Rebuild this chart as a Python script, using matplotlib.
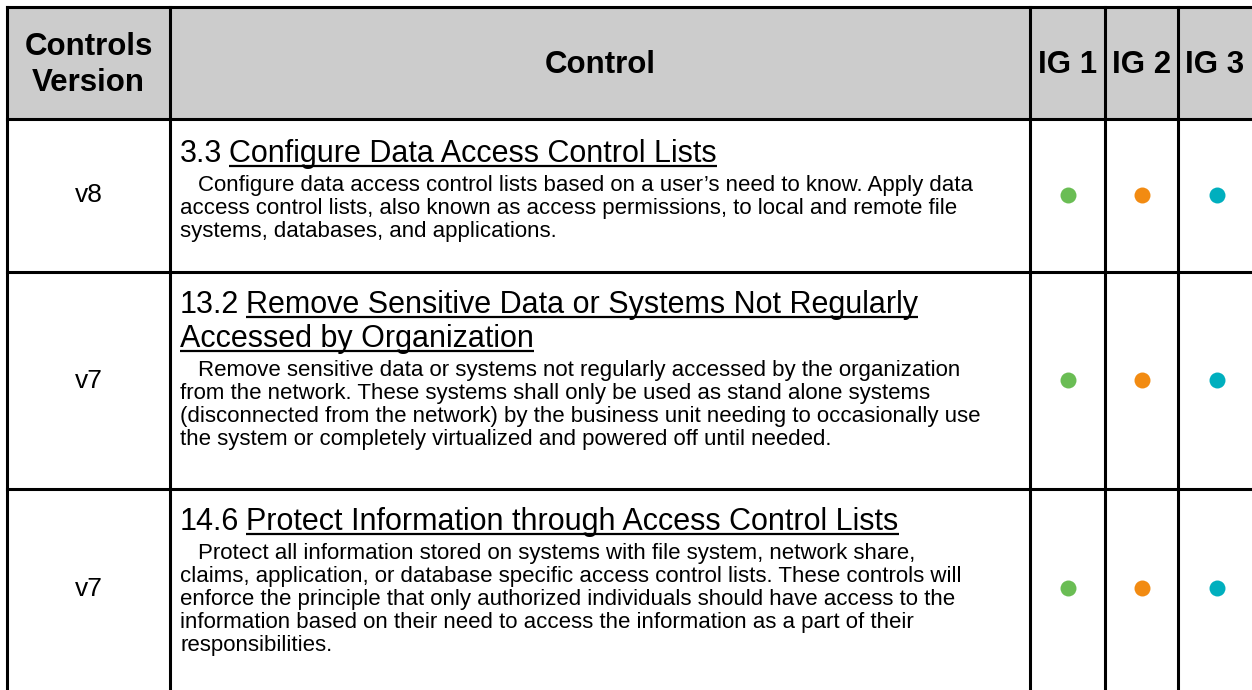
import matplotlib
matplotlib.use("Agg")
import matplotlib.pyplot as plt

plt.rcParams['font.family'] = ['Liberation Sans', 'DejaVu Sans']

# table content
headers = ["Controls\nVersion", "Control", "IG 1", "IG 2", "IG 3"]
versions = ["v8", "v7", "v7"]
control_ids = ["3.3", "13.2", "14.6"]
titles = [
    ["Configure Data Access Control Lists"],
    ["Remove Sensitive Data or Systems Not Regularly", "Accessed by Organization"],
    ["Protect Information through Access Control Lists"],
]
descriptions = [
    ["Configure data access control lists based on a user\u2019s need to know. Apply data",
     "access control lists, also known as access permissions, to local and remote file",
     "systems, databases, and applications."],
    ["Remove sensitive data or systems not regularly accessed by the organization",
     "from the network. These systems shall only be used as stand alone systems",
     "(disconnected from the network) by the business unit needing to occasionally use",
     "the system or completely virtualized and powered off until needed."],
    ["Protect all information stored on systems with file system, network share,",
     "claims, application, or database specific access control lists. These controls will",
     "enforce the principle that only authorized individuals should have access to the",
     "information based on their need to access the information as a part of their",
     "responsibilities."],
]
ig1 = [True, True, True]
ig2 = [True, True, True]
ig3 = [True, True, True]
ig_colors = ["#6abd54", "#f28b12", "#00afbe"]

# layout in pixels
W, H = 1252, 690
col_x = [7, 170, 1030, 1105, 1178, 1260]
row_y = [7, 119, 272, 489, 688]
title_base = [162, 313, 530]
title_gap = 34
body_gap = 23
text_x = 180

fig = plt.figure(figsize=(W / 100, H / 100), dpi=100)
ax = fig.add_axes([0, 0, 1, 1])
ax.set_xlim(0, W)
ax.set_ylim(H, 0)
ax.axis('off')

# header background
ax.fill_between([col_x[0], W], row_y[0], row_y[1], color="#cccccc", lw=0)

lw = 2.2
for y in row_y[:-1]:
    ax.plot([col_x[0], W + 5], [y, y], color="black", lw=lw, solid_capstyle='projecting')
for x in col_x[:-1]:
    ax.plot([x, x], [row_y[0], H + 5], color="black", lw=lw, solid_capstyle='projecting')

# header texts
hy = (row_y[0] + row_y[1]) / 2
for i, h in enumerate(headers):
    cx = (col_x[i] + min(col_x[i + 1], W)) / 2
    ax.text(cx, hy + 2, h, ha='center', va='center', fontsize=22.5, fontweight='bold',
            linespacing=1.25)

fig.canvas.draw()
renderer = fig.canvas.get_renderer()
inv = ax.transData.inverted()

def underline(t, base):
    bb = t.get_window_extent(renderer)
    x0 = inv.transform((bb.x0, 0))[0]
    x1 = inv.transform((bb.x1, 0))[0]
    ax.plot([x0, x1], [base + 4, base + 4], color="black", lw=1.6,
            solid_capstyle='butt')

for r in range(len(versions)):
    cy = (row_y[r + 1] + row_y[r + 2]) / 2
    ax.text((col_x[0] + col_x[1]) / 2, cy, versions[r], ha='center', va='center',
            fontsize=19)
    for k, flags in enumerate([ig1, ig2, ig3]):
        if flags[r]:
            cx = (col_x[2 + k] + min(col_x[3 + k], 1255)) / 2
            ax.plot(cx, cy - 1, 'o', ms=11.5, color=ig_colors[k], mec='none')

    base = title_base[r]
    num = ax.text(text_x, base, control_ids[r], ha='left', va='baseline',
                  fontsize=22)
    bb = num.get_window_extent(renderer)
    tx = inv.transform((bb.x1, 0))[0] + 7
    for j, line in enumerate(titles[r]):
        x = tx if j == 0 else text_x
        t = ax.text(x, base, line, ha='left', va='baseline', fontsize=22)
        underline(t, base)
        base += title_gap
    base = base - title_gap + 29
    for j, line in enumerate(descriptions[r]):
        x = text_x + 18 if j == 0 else text_x
        ax.text(x, base, line, ha='left', va='baseline', fontsize=16)
        base += body_gap

fig.savefig("out.png", dpi=100)
